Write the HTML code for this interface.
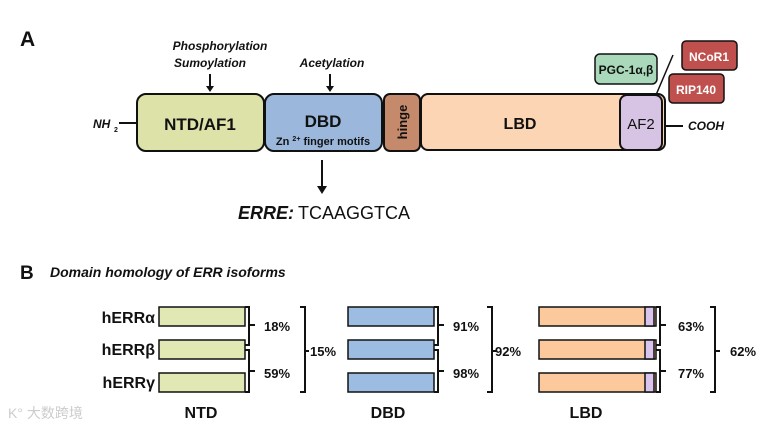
<!DOCTYPE html>
<html><head><meta charset="utf-8"><style>
body{margin:0;background:#fff}
text{font-family:"Liberation Sans",sans-serif;fill:#111}
</style></head><body>
<svg width="781" height="431" viewBox="0 0 781 431" xmlns="http://www.w3.org/2000/svg">
<defs><marker id="ah" markerWidth="8" markerHeight="8" refX="4" refY="6" orient="auto" markerUnits="userSpaceOnUse"><path d="M0,0 L8,0 L4,8 z" fill="#111"/></marker></defs>
<text x="20" y="46" font-size="21" font-weight="bold">A</text>
<text x="220" y="50" font-size="12" font-style="italic" font-weight="bold" text-anchor="middle">Phosphorylation</text>
<text x="210" y="67" font-size="12" font-style="italic" font-weight="bold" text-anchor="middle">Sumoylation</text>
<text x="332" y="67" font-size="12" font-style="italic" font-weight="bold" text-anchor="middle">Acetylation</text>
<g stroke="#111" stroke-width="2" fill="none">
<path d="M210 74 V88"/><path d="M330 74 V88"/><path d="M322 160 V188"/>
</g>
<path d="M206 86 L214 86 L210 92 z M326 86 L334 86 L330 92 z M317 186 L327 186 L322 194 z" fill="#111"/>
<text x="93" y="128" font-size="12" font-style="italic" font-weight="bold">NH</text>
<text x="114" y="132" font-size="7" font-weight="bold">2</text>
<path d="M119 123 H137" stroke="#111" stroke-width="2"/>
<rect x="137" y="94" width="127" height="57" rx="9" fill="#dde2a8" stroke="#111" stroke-width="2"/>
<text x="200" y="130" font-size="17" font-weight="bold" text-anchor="middle">NTD/AF1</text>
<rect x="265" y="94" width="117" height="57" rx="9" fill="#9bb8dc" stroke="#111" stroke-width="2"/>
<text x="323" y="127" font-size="17" font-weight="bold" text-anchor="middle">DBD</text>
<text x="323" y="145" font-size="11" font-weight="bold" text-anchor="middle">Zn <tspan font-size="7" dy="-4">2+</tspan><tspan dy="4"> finger motifs</tspan></text>
<rect x="384" y="94" width="36" height="57" rx="6" fill="#c58a6c" stroke="#111" stroke-width="2"/>
<text transform="translate(407,122) rotate(-90)" font-size="13" font-weight="bold" text-anchor="middle">hinge</text>
<rect x="421" y="94" width="244" height="56" rx="7" fill="#fbd5b4" stroke="#111" stroke-width="2"/>
<text x="520" y="129" font-size="16" font-weight="bold" text-anchor="middle">LBD</text>
<rect x="620" y="95" width="42" height="55" rx="7" fill="#d7c3e3" stroke="#111" stroke-width="2"/>
<text x="641" y="129" font-size="15" text-anchor="middle">AF2</text>
<path d="M665 126 H683" stroke="#111" stroke-width="2"/>
<text x="688" y="130" font-size="12" font-style="italic" font-weight="bold">COOH</text>
<path d="M656 95 L673 55" stroke="#111" stroke-width="1.5"/>
<rect x="595" y="54" width="62" height="30" rx="5" fill="#a9d9ba" stroke="#111" stroke-width="1.5"/>
<text x="626" y="74" font-size="12" font-weight="bold" text-anchor="middle">PGC-1α,β</text>
<rect x="682" y="41" width="55" height="29" rx="4" fill="#c0504d" stroke="#111" stroke-width="1.5"/>
<text x="709" y="61" font-size="12" font-weight="bold" fill="#fff" text-anchor="middle" style="fill:#fff">NCoR1</text>
<rect x="669" y="74" width="55" height="29" rx="4" fill="#c0504d" stroke="#111" stroke-width="1.5"/>
<text x="696" y="94" font-size="12" font-weight="bold" text-anchor="middle" style="fill:#fff">RIP140</text>
<text x="238" y="219" font-size="18" font-weight="bold" font-style="italic">ERRE:</text>
<text x="298" y="219" font-size="18">TCAAGGTCA</text>

<text x="20" y="279" font-size="19" font-weight="bold">B</text>
<text x="50" y="277" font-size="14" font-weight="bold" font-style="italic">Domain homology of ERR isoforms</text>
<g font-size="16" font-weight="bold" text-anchor="end">
<text x="155" y="323">hERRα</text><text x="155" y="355">hERRβ</text><text x="155" y="388">hERRγ</text>
</g>
<g stroke="#111" stroke-width="1.5">
<rect x="159" y="307" width="86" height="19" fill="#e2e8b4"/><rect x="159" y="340" width="86" height="19" fill="#e2e8b4"/><rect x="159" y="373" width="86" height="19" fill="#e2e8b4"/>
<rect x="348" y="307" width="86" height="19" fill="#9dbce2"/><rect x="348" y="340" width="86" height="19" fill="#9dbce2"/><rect x="348" y="373" width="86" height="19" fill="#9dbce2"/>
<g fill="#fcc99d"><rect x="539" y="307" width="117" height="19"/><rect x="539" y="340" width="117" height="19"/><rect x="539" y="373" width="117" height="19"/></g>
<g fill="#d8c4ec"><rect x="645" y="307" width="9" height="19"/><rect x="645" y="340" width="9" height="19"/><rect x="645" y="373" width="9" height="19"/></g>
</g>
<g stroke="#111" stroke-width="2" fill="none">
<path d="M245 307 H249 V345 H245 M249 325 H255"/><path d="M245 350 H249 V392 H245 M249 371 H255"/>
<path d="M300 307 H305 V392 H300 M305 351 H309"/>
<path d="M434 307 H438 V345 H434 M438 325 H444"/><path d="M434 350 H438 V392 H434 M438 371 H444"/>
<path d="M487 307 H492 V392 H487 M492 351 H496"/>
<path d="M656 307 H660 V345 H656 M660 325 H666"/><path d="M656 350 H660 V392 H656 M660 371 H666"/>
<path d="M710 307 H715 V392 H710 M715 351 H720"/>
</g>
<g font-size="13" font-weight="bold">
<text x="264" y="331">18%</text><text x="264" y="378">59%</text><text x="310" y="356">15%</text>
<text x="453" y="331">91%</text><text x="453" y="378">98%</text><text x="495" y="356">92%</text>
<text x="678" y="331">63%</text><text x="678" y="378">77%</text><text x="730" y="356">62%</text>
</g>
<g font-size="16" font-weight="bold" text-anchor="middle">
<text x="201" y="418">NTD</text><text x="388" y="418">DBD</text><text x="586" y="418">LBD</text>
</g>
<text x="8" y="418" font-size="14" style="fill:#ccc" font-family="Noto Sans CJK SC">K° 大数跨境</text>
</svg>
</body></html>
